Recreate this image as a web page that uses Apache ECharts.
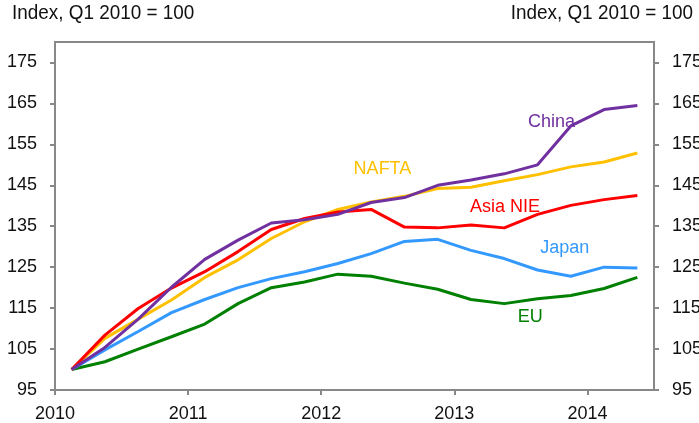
<!DOCTYPE html>
<html>
<head>
<meta charset="utf-8">
<script src="https://cdn.jsdelivr.net/npm/echarts@6/dist/echarts.min.js"></script>
<style>
  html, body { margin: 0; padding: 0; background: #fff; }
  #main { width: 699px; height: 423px; }
</style>
</head>
<body>
<div id="main"></div>
<script>
// quarterly points, Q1 2010 .. Q2 2014 (placed mid-quarter)
var quarters = [2010.125, 2010.375, 2010.625, 2010.875, 2011.125, 2011.375, 2011.625, 2011.875,
  2012.125, 2012.375, 2012.625, 2012.875, 2013.125, 2013.375, 2013.625, 2013.875, 2014.125, 2014.375];

var china = [100, 105.4, 112.3, 120.1, 126.9, 131.6, 135.8, 136.6, 137.9, 140.8, 142.0, 145.0, 146.3, 147.8, 150.0, 159.5, 163.5, 164.5];
var nafta = [100, 107.6, 112.3, 117.0, 122.5, 126.8, 132.0, 136.1, 139.1, 140.9, 142.3, 144.2, 144.5, 146.1, 147.6, 149.5, 150.7, 152.9];
var asiaNie = [100, 108.4, 114.9, 119.9, 123.9, 128.8, 134.2, 136.9, 138.5, 139.1, 134.8, 134.6, 135.3, 134.6, 137.9, 140.1, 141.5, 142.5];
var japan = [100, 104.8, 109.3, 113.9, 117.1, 120.0, 122.2, 123.9, 125.9, 128.3, 131.3, 131.8, 129.1, 127.1, 124.3, 122.8, 125.0, 124.8];
var eu = [100, 101.9, 105.0, 108.0, 111.1, 116.1, 120.0, 121.4, 123.3, 122.8, 121.1, 119.6, 117.1, 116.1, 117.3, 118.1, 119.8, 122.5];

var yTicks = [95, 105, 115, 125, 135, 145, 155, 165, 175];
var xYears = [2010, 2011, 2012, 2013, 2014];

// where each series name sits (data coords)
var labelPos = {
  'China': [2013.73, 160.4],
  'NAFTA': [2012.46, 149.0],
  'Asia NIE': [2013.38, 139.6],
  'Japan': [2013.83, 129.6],
  'EU': [2013.57, 112.8]
};

var myChart = echarts.init(document.getElementById('main'));

function pairs(vals) {
  return quarters.map(function (q, i) { return [q, vals[i]]; });
}

function makeSeries(name, vals, color) {
  return {
    name: name,
    type: 'line',
    data: pairs(vals),
    symbol: 'none',
    lineStyle: { color: color, width: 3 },
    itemStyle: { color: color },
    markPoint: {
      symbol: 'circle',
      symbolSize: 0,
      silent: true,
      label: {
        show: true,
        position: 'inside',
        formatter: name,
        color: color,
        fontSize: 18,
        fontFamily: 'Liberation Sans'
      },
      data: [{ coord: labelPos[name] }]
    }
  };
}

var axisGray = '#888888';
var labelFont = { color: '#111', fontSize: 18, fontFamily: 'Liberation Sans' };

var option = {
  animation: false,
  backgroundColor: '#fff',
  grid: {
    left: 55, right: 45, top: 42, bottom: 33,
    containLabel: false,
    outerBoundsMode: 'none',
    show: true,
    borderColor: axisGray,
    borderWidth: 2
  },
  graphic: [
    { type: 'text', x: 12, y: 3, scaleX: 0.9,
      style: { text: 'Index, Q1 2010 = 100', fill: '#111', font: '21px Liberation Sans' } },
    { type: 'text', x: 693, y: 3, scaleX: 0.9,
      style: { text: 'Index, Q1 2010 = 100', fill: '#111', font: '21px Liberation Sans', align: 'right' } }
  ],
  xAxis: {
    type: 'value',
    min: 2010,
    max: 2014.5,
    interval: 1,
    axisLine: { show: true, onZero: false, lineStyle: { color: axisGray, width: 2 } },
    axisTick: { show: true, length: 5, lineStyle: { color: axisGray, width: 2 } },
    splitLine: { show: false },
    axisLabel: Object.assign({
      margin: 15,
      showMaxLabel: false,
      formatter: function (v) { return xYears.indexOf(v) >= 0 ? String(v) : ''; }
    }, labelFont)
  },
  yAxis: [
    {
      type: 'value',
      min: 95, max: 180, interval: 10,
      position: 'left',
      axisLine: { show: true, lineStyle: { color: axisGray, width: 2 } },
      axisTick: { show: true, length: 5, lineStyle: { color: axisGray, width: 2 } },
      splitLine: { show: false },
      axisLabel: Object.assign({
        margin: 18,
        showMaxLabel: false,
        formatter: function (v) { return yTicks.indexOf(v) >= 0 ? String(v) : ''; }
      }, labelFont)
    },
    {
      type: 'value',
      min: 95, max: 180, interval: 10,
      position: 'right',
      axisLine: { show: true, lineStyle: { color: axisGray, width: 2 } },
      axisTick: { show: true, length: 5, lineStyle: { color: axisGray, width: 2 } },
      splitLine: { show: false },
      axisLabel: Object.assign({
        margin: 18,
        showMaxLabel: false,
        formatter: function (v) { return yTicks.indexOf(v) >= 0 ? String(v) : ''; }
      }, labelFont)
    }
  ],
  series: [
    makeSeries('EU', eu, '#008000'),
    makeSeries('Japan', japan, '#3399FF'),
    makeSeries('NAFTA', nafta, '#FFC000'),
    makeSeries('Asia NIE', asiaNie, '#FF0000'),
    makeSeries('China', china, '#7030A0')
  ]
};

myChart.setOption(option);
window.addEventListener('resize', function () {
  myChart.resize();
});
</script>
</body>
</html>
